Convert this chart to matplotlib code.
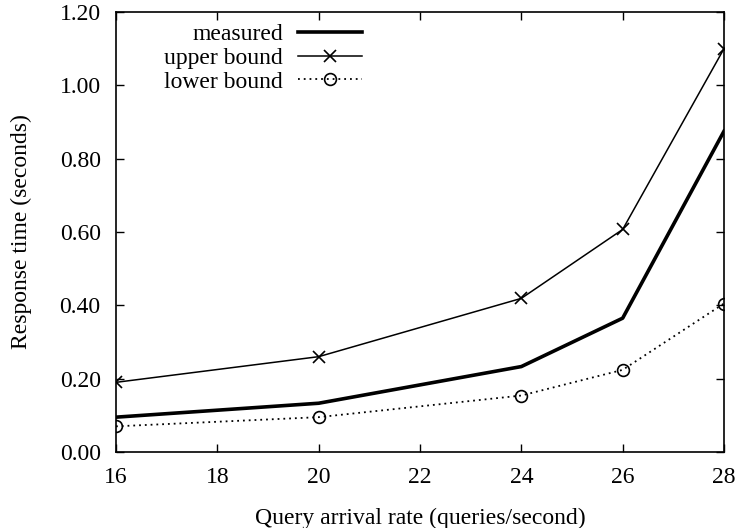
import matplotlib
matplotlib.use("Agg")
import matplotlib.pyplot as plt
from matplotlib.ticker import FormatStrFormatter

x = [16, 20, 24, 26, 28]
measured = [0.095, 0.133, 0.233, 0.365, 0.875]
upper = [0.19, 0.26, 0.419, 0.607, 1.10]
lower = [0.07, 0.095, 0.154, 0.224, 0.405]

plt.rcParams['font.family'] = ['Liberation Serif', 'DejaVu Serif']
plt.rcParams['font.size'] = 17

fig = plt.figure(figsize=(7.41, 5.28), dpi=100)
ax = fig.add_axes([116/741, 1 - 452/528, (724-116)/741, (452-12)/528])

ax.plot(x, measured, color='black', lw=2.6, label='measured')
ax.plot(x, upper, color='black', lw=1.1, marker='x', ms=9, mew=1.2, label='upper bound')
ax.plot(x, lower, color='black', lw=1.3, ls=(0, (1, 2.2)), marker='o', ms=8.5,
        mfc='none', mew=1.2, label='lower bound')

ax.set_xlim(16, 28)
ax.set_ylim(0, 1.2)
ax.set_xticks([16, 18, 20, 22, 24, 26, 28])
ax.set_yticks([0, 0.2, 0.4, 0.6, 0.8, 1.0, 1.2])
ax.yaxis.set_major_formatter(FormatStrFormatter('%.2f'))
ax.tick_params(direction='in', top=True, right=True, length=6, width=1, pad=11)
for s in ax.spines.values():
    s.set_linewidth(1.2)

ax.set_xlabel('Query arrival rate (queries/second)', labelpad=14)
ax.set_ylabel('Response time (seconds)', labelpad=20)

ax.legend(loc='upper right', bbox_to_anchor=(0.405, 0.974), frameon=False, markerfirst=False,
          handlelength=2.7, handletextpad=0.65, labelspacing=0.1, borderpad=0,
          borderaxespad=0)

fig.savefig('out.png', dpi=100)
